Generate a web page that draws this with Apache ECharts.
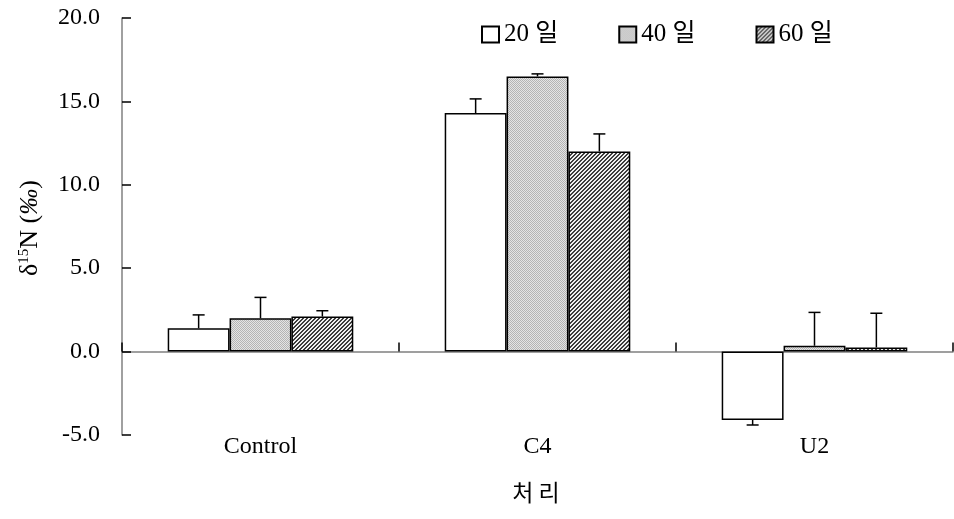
<!DOCTYPE html>
<html>
<head>
<meta charset="utf-8">
<script src="https://cdn.jsdelivr.net/npm/echarts@6/dist/echarts.min.js"></script>
<style>html,body{margin:0;padding:0;background:#fff;}#c{width:954px;height:519px;}</style>
</head>
<body>
<div id="c"></div>
<script>
const categories = ['Control', 'C4', 'U2'];
const seriesNames = ['20 일', '40 일', '60 일'];
const values20 = [1.4, 14.3, -4.1];
const errors20 = [0.8, 0.85, 0.3];
const values40 = [2.0, 16.5, 0.35];
const errors40 = [1.25, 0.15, 2.0];
const values60 = [2.1, 12.0, 0.25];
const errors60 = [0.35, 1.05, 2.05];
const yTicks = [-5, 0, 5, 10, 15, 20];

function makePattern(kind) {
  const c = document.createElement('canvas');
  c.width = 4; c.height = 4;
  const ctx = c.getContext('2d');
  for (let y = 0; y < 4; y++) {
    for (let x = 0; x < 4; x++) {
      let col;
      if (kind === 'dots') {
        col = ((x + y) % 2 === 0) ? '#b4b4b4' : '#e4e4e4';
      } else {
        col = (((x + y) % 4) < 2) ? '#3c3c3c' : '#f0f0f0';
      }
      ctx.fillStyle = col;
      ctx.fillRect(x, y, 1, 1);
    }
  }
  return { image: c, repeat: 'repeat' };
}

const fills = ['#ffffff', makePattern('dots'), makePattern('hatch')];
const valueSets = [values20, values40, values60];
const errorSets = [errors20, errors40, errors60];
const GAP = 0.33;
const fontSerif = '"Liberation Serif", "Noto Sans CJK KR", serif';

const chart = echarts.init(document.getElementById('c'), null, { renderer: 'canvas' });

const series = [];
valueSets.forEach((vals, k) => {
  series.push({
    name: seriesNames[k],
    type: 'bar',
    xAxisIndex: 0,
    barGap: '0%',
    barCategoryGap: (GAP * 100) + '%',
    data: vals,
    itemStyle: { color: fills[k], borderColor: '#000', borderWidth: 1.5 },
    emphasis: { disabled: true },
    z: 2
  });
});
valueSets.forEach((vals, k) => {
  series.push({
    name: 'err' + k,
    type: 'custom',
    xAxisIndex: 0,
    z: 3,
    data: vals.map((v, i) => [i, v, errorSets[k][i]]),
    encode: { x: 0, y: 1 },
    renderItem: function (params, api) {
      const i = api.value(0);
      const v = api.value(1);
      const e = api.value(2);
      const catW = api.size([1, 0])[0];
      const barW = catW * (1 - GAP) / 3;
      const p0 = api.coord([i, v]);
      const p1 = api.coord([i, v + (v >= 0 ? e : -e)]);
      const x = p0[0] + (k - 1) * barW;
      const style = { stroke: '#000', lineWidth: 1.5 };
      return {
        type: 'group',
        children: [
          { type: 'line', shape: { x1: x, y1: p0[1], x2: x, y2: p1[1] }, style: style },
          { type: 'line', shape: { x1: x - 6, y1: p1[1], x2: x + 6, y2: p1[1] }, style: style }
        ]
      };
    }
  });
});

chart.setOption({
  animation: false,
  backgroundColor: '#ffffff',
  grid: { left: 122, right: 1, top: 18, bottom: 84 },
  legend: {
    data: seriesNames,
    left: 481, top: 22, padding: 0,
    itemWidth: 17, itemHeight: 16, itemGap: 60,
    icon: 'rect',
    selectedMode: false,
    textStyle: { fontFamily: fontSerif, fontSize: 25, color: '#000' }
  },
  xAxis: [
    {
      type: 'category', data: categories, position: 'bottom',
      axisLine: { onZero: true, lineStyle: { color: '#808080', width: 1.5 } },
      axisTick: { show: true, inside: true, length: 9, lineStyle: { color: '#000', width: 1.5 } },
      axisLabel: { show: false }
    },
    {
      type: 'category', data: categories, position: 'bottom',
      axisLine: { show: false, onZero: false },
      axisTick: { show: false },
      axisLabel: { show: true, margin: 0, fontFamily: fontSerif, fontSize: 24, color: '#000' }
    }
  ],
  yAxis: {
    type: 'value', min: yTicks[0], max: yTicks[yTicks.length - 1], interval: 5,
    splitLine: { show: false },
    axisLine: { show: true, lineStyle: { color: '#808080', width: 1.5 } },
    axisTick: { show: true, inside: true, length: 9, lineStyle: { color: '#000', width: 1.5 } },
    axisLabel: { margin: 22, fontFamily: fontSerif, fontSize: 24, color: '#000', formatter: v => v.toFixed(1) }
  },
  graphic: [
    {
      type: 'text', x: 30, y: 228, rotation: Math.PI / 2,
      style: {
        text: '{n|δ}{s|15}{n|N (}{i|‰}{n|)}',
        align: 'center', verticalAlign: 'middle',
        fill: '#000',
        rich: {
          n: { fontFamily: fontSerif, fontSize: 26, fill: '#000' },
          s: { fontFamily: fontSerif, fontSize: 15, fill: '#000', verticalAlign: 'top' },
          i: { fontFamily: fontSerif, fontSize: 26, fontStyle: 'italic', fill: '#000' }
        }
      }
    },
    {
      type: 'text', x: 536, y: 492,
      style: { text: '처 리', align: 'center', verticalAlign: 'middle', fill: '#000',
        font: '23px "Noto Sans CJK KR", sans-serif' }
    }
  ],
  series: series
});
</script>
</body>
</html>
